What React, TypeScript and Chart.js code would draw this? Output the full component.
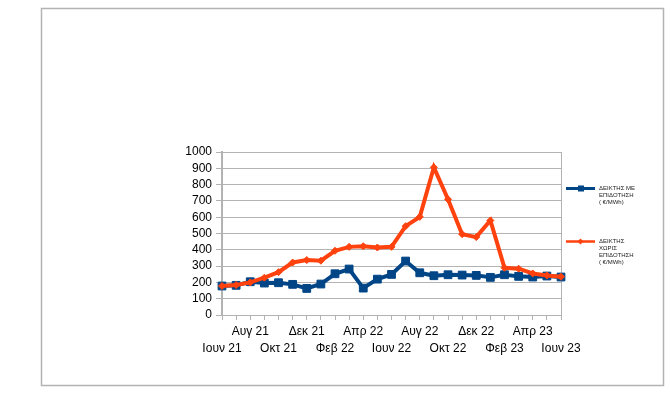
import React, { useEffect, useRef } from "react";
import { Chart, registerables } from "chart.js";

Chart.register(...registerables);

const months: string[] = [
  "Ιουν 21", "Ιουλ 21", "Αυγ 21", "Σεπ 21", "Οκτ 21", "Νοε 21", "Δεκ 21", "Ιαν 22",
  "Φεβ 22", "Μαρ 22", "Απρ 22", "Μαϊ 22", "Ιουν 22", "Ιουλ 22", "Αυγ 22", "Σεπ 22",
  "Οκτ 22", "Νοε 22", "Δεκ 22", "Ιαν 23", "Φεβ 23", "Μαρ 23", "Απρ 23", "Μαϊ 23", "Ιουν 23",
];

const withSubsidy: number[] = [
  178, 182, 204, 196, 198, 188, 163, 190, 253, 282, 165, 220, 249,
  331, 259, 241, 247, 245, 243, 231, 247, 237, 233, 239, 233,
];

const withoutSubsidy: number[] = [
  178, 184, 200, 229, 263, 322, 337, 333, 394, 418, 422, 414, 418,
  545, 602, 906, 710, 496, 478, 580, 290, 284, 255, 243, 235,
];

const legendBlue: string[] = ["ΔΕΙΚΤΗΣ ΜΕ", "ΕΠΙΔΟΤΗΣΗ", "( €/MWh)"];
const legendOrange: string[] = ["ΔΕΙΚΤΗΣ", "ΧΩΡΙΣ", "ΕΠΙΔΟΤΗΣΗ", "( €/MWh)"];

const BLUE = "#004586";
const ORANGE = "#ff420e";
const GRID = "#b3b3b3";

export default function App() {
  const ref = useRef<HTMLCanvasElement | null>(null);

  useEffect(() => {
    document.body.style.margin = "0";
    const canvas = ref.current;
    if (!canvas) return;

    const framePlugin = {
      id: "frameLegend",
      afterDraw(chart: any) {
        const ctx = chart.ctx as CanvasRenderingContext2D;
        ctx.save();
        ctx.strokeStyle = GRID;
        ctx.lineWidth = 1.5;
        ctx.strokeRect(41.5, 8.5, 622, 377);

        const drawEntry = (
          y: number,
          color: string,
          lines: string[],
          marker: "rect" | "diamond"
        ) => {
          ctx.strokeStyle = color;
          ctx.lineWidth = marker === "rect" ? 3 : 2.5;
          ctx.beginPath();
          ctx.moveTo(566, y);
          ctx.lineTo(595, y);
          ctx.stroke();
          ctx.fillStyle = color;
          if (marker === "rect") {
            ctx.fillRect(578, y - 3, 6, 6);
          } else {
            ctx.beginPath();
            ctx.moveTo(580.5, y - 3);
            ctx.lineTo(583.5, y);
            ctx.lineTo(580.5, y + 3);
            ctx.lineTo(577.5, y);
            ctx.closePath();
            ctx.fill();
          }
          ctx.fillStyle = "#222";
          ctx.font = "6px 'Liberation Sans', Arial, sans-serif";
          ctx.textBaseline = "middle";
          ctx.textAlign = "left";
          lines.forEach((t, i) => ctx.fillText(t, 599, y + i * 7));
        };
        drawEntry(188.5, BLUE, legendBlue, "rect");
        drawEntry(241.5, ORANGE, legendOrange, "diamond");
        ctx.restore();
      },
    };

    const chart = new Chart(canvas, {
      type: "line",
      data: {
        labels: months,
        datasets: [
          {
            label: legendOrange.join(" "),
            data: withoutSubsidy,
            borderColor: ORANGE,
            backgroundColor: ORANGE,
            borderWidth: 4,
            pointStyle: "rectRot",
            pointRadius: 3.5,
            pointBorderWidth: 1,
            pointBackgroundColor: ORANGE,
            pointBorderColor: ORANGE,
            tension: 0,
            clip: false as any,
            order: 0,
          },
          {
            label: legendBlue.join(" "),
            data: withSubsidy,
            borderColor: BLUE,
            backgroundColor: BLUE,
            borderWidth: 4,
            pointStyle: "rect",
            pointRadius: 5.5,
            pointBorderWidth: 1,
            pointBackgroundColor: BLUE,
            pointBorderColor: BLUE,
            tension: 0,
            clip: false as any,
            order: 1,
          },
        ],
      },
      options: {
        responsive: false,
        animation: false,
        devicePixelRatio: 1,
        layout: { padding: { left: 172, right: 109, top: 152, bottom: 28 } },
        plugins: {
          legend: { display: false },
          tooltip: { enabled: false },
        },
        scales: {
          x: {
            offset: false,
            afterFit: (s: any) => {
              s.height = 50;
            },
            grid: {
              display: true,
              drawOnChartArea: true,
              drawTicks: true,
              tickLength: 5,
              color: (c: any) => (c.index === months.length - 1 ? GRID : "rgba(0,0,0,0)"),
              tickColor: GRID,
            },
            border: { display: true, color: GRID, width: 1 },
            ticks: {
              autoSkip: false,
              maxRotation: 0,
              minRotation: 0,
              padding: 3,
              color: "#000",
              font: { family: "'Liberation Sans', Arial, sans-serif", size: 12, lineHeight: 1.4 },
              callback: (_v: any, i: number) => {
                const lab = months[i];
                if (i % 4 === 2) return [lab, ""];
                if (i % 4 === 0) return ["", lab];
                return "";
              },
            },
          },
          y: {
            min: 0,
            max: 1000,
            afterFit: (s: any) => {
              s.width = 50;
            },
            grid: { color: GRID, tickLength: 6, tickColor: GRID },
            border: { display: true, color: GRID, width: 2 },
            ticks: {
              stepSize: 100,
              autoSkip: false,
              padding: 4,
              color: "#000",
              font: { family: "'Liberation Sans', Arial, sans-serif", size: 12, lineHeight: 1 },
              callback: (v: any) => String(v),
            },
          },
        },
      },
      plugins: [framePlugin],
    });

    return () => chart.destroy();
  }, []);

  return (
    <canvas
      ref={ref}
      width={670}
      height={393}
      style={{ position: "fixed", left: 0, top: 0, width: 670, height: 393, background: "#fff" }}
    />
  );
}
